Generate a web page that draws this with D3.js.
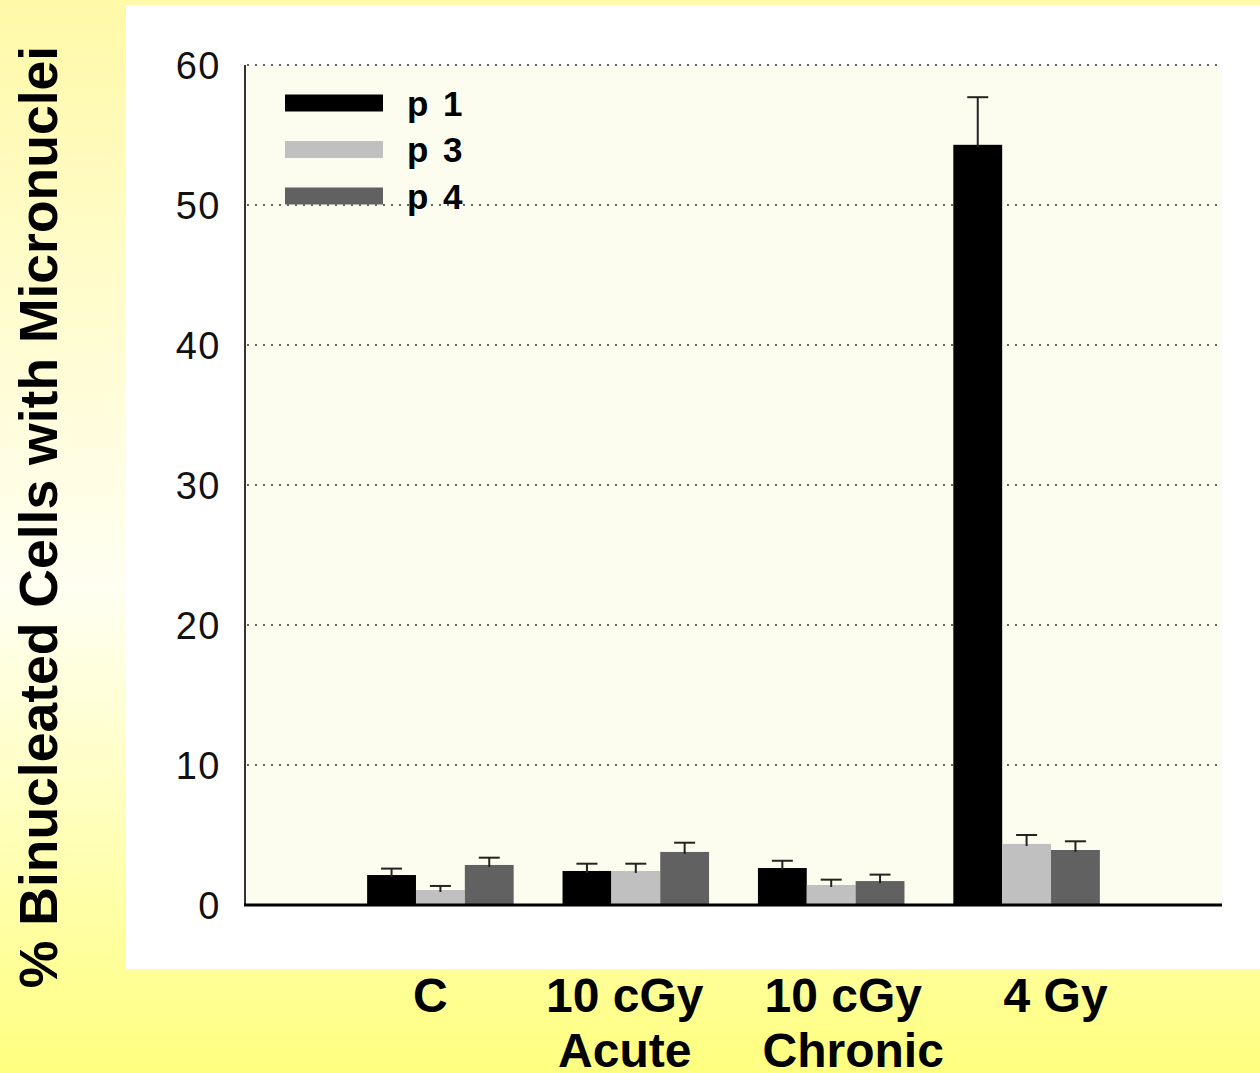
<!DOCTYPE html>
<html><head><meta charset="utf-8">
<script src="https://cdn.jsdelivr.net/npm/d3@7/dist/d3.min.js"></script>
<style>html,body{margin:0;padding:0;overflow:hidden;}svg{display:block;}</style>
</head><body>
<script>
// ---- data ----
const categories = ["C", "10 cGy\nAcute", "10 cGy\nChronic", "4 Gy"];
const seriesNames = ["p 1", "p 3", "p 4"];
const seriesColors = ["#000000", "#c0c0c0", "#616161"];
const p1Values = [2.14, 2.43, 2.64, 54.3];
const p3Values = [1.07, 2.43, 1.43, 4.36];
const p4Values = [2.86, 3.79, 1.71, 3.93];
const p1Errors = [0.46, 0.52, 0.52, 3.4];
const p3Errors = [0.29, 0.52, 0.38, 0.64];
const p4Errors = [0.52, 0.66, 0.46, 0.62];
const yTicks = [0, 10, 20, 30, 40, 50, 60];
const yTitle = "% Binucleated Cells with Micronuclei";

(function () {
const values = [p1Values, p3Values, p4Values];
const errors = [p1Errors, p3Errors, p4Errors];
const FONT = "'Liberation Sans', Arial, sans-serif";

const W = 1260, H = 1073;
const svg = d3.select("body").append("svg").attr("width", W).attr("height", H);
const defs = svg.append("defs");
const grad = defs.append("linearGradient").attr("id", "bg").attr("x1", 0).attr("y1", 0).attr("x2", 0).attr("y2", 1);
grad.append("stop").attr("offset", "0%").attr("stop-color", "#fff9a8");
grad.append("stop").attr("offset", "55%").attr("stop-color", "#fffff2");
grad.append("stop").attr("offset", "100%").attr("stop-color", "#ffff80");
svg.append("rect").attr("width", W).attr("height", H).attr("fill", "url(#bg)");

// white panel
svg.append("rect").attr("x", 126).attr("y", 5).attr("width", W - 126).attr("height", 964).attr("fill", "#ffffff");

const pL = 245, pR = 1222, pT = 65, pB = 905;
const x = d3.scaleLinear().domain([0, categories.length + 1]).range([pL, pR]);
const y = d3.scaleLinear().domain([0, 60]).range([pB, pT]);
const barW = x(0.25) - x(0);

// plot area fill
svg.append("rect").attr("x", pL).attr("y", pT).attr("width", pR - pL).attr("height", pB - pT).attr("fill", "#fdfdef");

// grid
svg.append("g").selectAll("line").data(yTicks.filter(d => d > 0)).join("line")
  .attr("x1", pL + 2).attr("x2", pR).attr("y1", d => y(d)).attr("y2", d => y(d))
  .attr("stroke", "#333").attr("stroke-width", 1.6).attr("stroke-dasharray", "2,6");

// bars
const g = svg.append("g");
categories.forEach((c, i) => {
  const cx = x(i + 1);
  values.forEach((vals, s) => {
    const bx = cx + (s - 1.5) * barW;
    const v = vals[i];
    g.append("rect").attr("x", bx).attr("y", y(v)).attr("width", barW).attr("height", y(0) - y(v))
      .attr("fill", seriesColors[s]);
  });
});
// error bars (upper)
categories.forEach((c, i) => {
  const cx = x(i + 1);
  values.forEach((vals, s) => {
    const bx = cx + (s - 1.5) * barW;
    const v = vals[i], e = errors[s][i];
    g.append("line").attr("x1", bx + barW / 2).attr("x2", bx + barW / 2)
      .attr("y1", y(v) + 2).attr("y2", y(v + e)).attr("stroke", "#222").attr("stroke-width", 2);
    g.append("line").attr("x1", bx + barW / 2 - 10.5).attr("x2", bx + barW / 2 + 10.5)
      .attr("y1", y(v + e)).attr("y2", y(v + e)).attr("stroke", "#222").attr("stroke-width", 2);
  });
});

// axes
svg.append("line").attr("x1", pL).attr("x2", pL).attr("y1", pT).attr("y2", pB)
  .attr("stroke", "#333").attr("stroke-width", 2);
svg.append("line").attr("x1", pL - 1).attr("x2", pR).attr("y1", pB).attr("y2", pB)
  .attr("stroke", "#000").attr("stroke-width", 3);

// y tick labels
svg.append("g").selectAll("text").data(yTicks).join("text")
  .attr("x", 221).attr("y", d => y(d)).attr("dy", "0.36em").attr("text-anchor", "end")
  .attr("font-family", FONT).attr("font-size", 38).attr("letter-spacing", 1.5).attr("fill", "#111")
  .text(d => d);

// x category labels
const labelShift = [-10, -11, 12, 29];
categories.forEach((c, i) => {
  const lines = c.split("\n");
  const t = svg.append("text").attr("text-anchor", "middle")
    .attr("font-family", FONT).attr("font-weight", "bold")
    .attr("font-size", 48).attr("fill", "#000");
  lines.forEach((ln, k) => {
    t.append("tspan").attr("x", x(i + 1) + labelShift[i] + (k === 1 && i === 2 ? 10 : 0))
      .attr("y", 1012 + k * 55).text(ln);
  });
});

// y title
svg.append("text").attr("transform", "translate(57,517) rotate(-90)").attr("text-anchor", "middle")
  .attr("font-family", FONT).attr("font-weight", "bold")
  .attr("font-size", 53.5).attr("fill", "#000").text(yTitle);

// legend
const lg = svg.append("g");
seriesNames.forEach((n, s) => {
  const cy = 103 + s * 46.5;
  lg.append("rect").attr("x", 285).attr("y", cy - 8.5).attr("width", 98).attr("height", 17).attr("fill", seriesColors[s]);
  lg.append("text").attr("x", 407).attr("y", cy).attr("dy", "0.36em")
    .attr("font-family", FONT).attr("font-weight", "bold").attr("letter-spacing", 2.5)
    .attr("font-size", 35).attr("fill", "#000").text(n);
});
})();
</script>
</body></html>
